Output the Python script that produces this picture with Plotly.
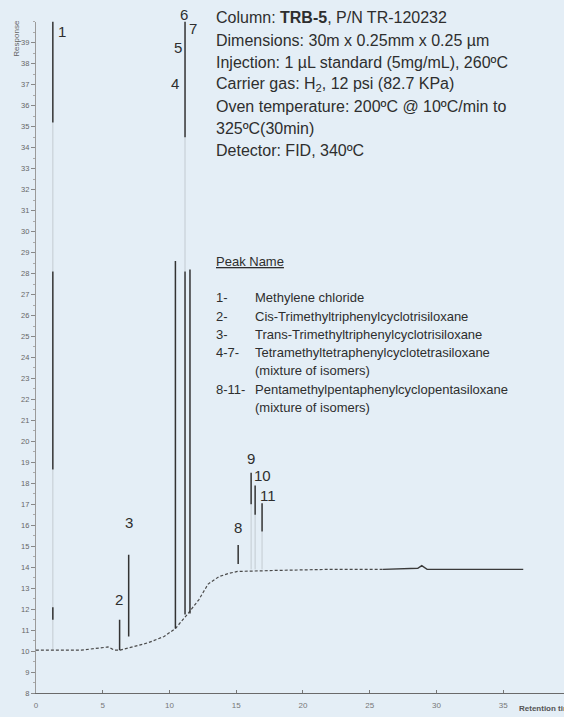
import plotly.graph_objects as go

W, H = 564, 717

# baseline drift (min, response)
base_time = [0.0, 1.0, 3.4, 5.4, 5.9, 6.3, 7.2, 8.4, 9.6, 10.45, 11.4, 12.2, 12.9, 13.7, 14.4, 15.1, 18.0, 22.0, 26.0]
base_resp = [10.05, 10.05, 10.05, 10.2, 10.05, 10.05, 10.2, 10.4, 10.7, 11.08, 11.8, 12.45, 13.2, 13.55, 13.7, 13.8, 13.85, 13.9, 13.9]
tail_time = [26.0, 28.6, 28.9, 29.3, 31.0, 34.0, 36.5]
tail_resp = [13.9, 13.95, 14.08, 13.9, 13.9, 13.9, 13.9]

# peak strokes: retention time, low and high end of the dark part
peak_time = [1.27, 1.27, 1.27, 6.27, 6.95, 10.45, 11.17, 11.54, 11.17, 15.15, 16.12, 16.42, 16.94]
peak_low = [35.2, 18.66, 11.5, 10.05, 10.7, 11.08, 11.75, 11.8, 34.5, 14.16, 17.0, 16.5, 15.7]
peak_high = [40.5, 28.1, 12.1, 11.5, 14.6, 28.6, 28.1, 28.2, 40.5, 15.06, 18.5, 17.9, 17.05]

# faded parts of the strokes in the scan
faint_time = [1.27, 1.27, 11.17, 16.12, 16.42, 16.94]
faint_low = [28.1, 10.05, 28.1, 13.9, 13.9, 13.9]
faint_high = [35.2, 18.66, 34.5, 17.0, 16.5, 15.7]

peak_numbers = ['1', '2', '3', '4', '5', '6', '7', '8', '9', '10', '11']

y_ticks = list(range(8, 40))
x_ticks = [0, 5, 10, 15, 20, 25, 30, 35]

info_lines = [
    'Column: <b>TRB-5</b>, P/N TR-120232',
    'Dimensions: 30m x 0.25mm x 0.25 µm',
    'Injection: 1 µL standard (5mg/mL), 260ºC',
    'Carrier gas: H<sub>2</sub>, 12 psi (82.7 KPa)',
    'Oven temperature: 200ºC @ 10ºC/min to',
    '325ºC(30min)',
    'Detector: FID, 340ºC',
]
peak_codes = ['1-', '2-', '3-', '4-7-', '', '8-11-', '']
peak_names = [
    'Methylene chloride',
    'Cis-Trimethyltriphenylcyclotrisiloxane',
    'Trans-Trimethyltriphenylcyclotrisiloxane',
    'Tetramethyltetraphenylcyclotetrasiloxane',
    '(mixture of isomers)',
    'Pentamethylpentaphenylcyclopentasiloxane',
    '(mixture of isomers)',
]


def segments(t, lo, hi):
    xs, ys = [], []
    for a, b, c in zip(t, lo, hi):
        xs += [a, a, None]
        ys += [b, c, None]
    return xs, ys


def px(x, y):
    return x / W, 1 - y / H


def note(x, y, text, size, color, xanchor='left', **kw):
    ax, ay = px(x, y)
    fig.add_annotation(x=ax, y=ay, xref='paper', yref='paper', text=text,
                       showarrow=False, xanchor=xanchor, yanchor='middle',
                       font=dict(size=size, color=color), **kw)


bg = '#e4eef6'
ink = '#2e2e2e'

fig = go.Figure()

fig.add_trace(go.Scatter(x=base_time, y=base_resp, mode='lines',
                         line=dict(color='#4a4a4a', width=1.2, dash='3px,2px')))
fig.add_trace(go.Scatter(x=tail_time, y=tail_resp, mode='lines',
                         line=dict(color='#3a3a3a', width=1.4)))

fx, fy = segments(faint_time, faint_low, faint_high)
fig.add_trace(go.Scatter(x=fx, y=fy, mode='lines',
                         line=dict(color='rgba(80,80,80,0.22)', width=1)))

sx, sy = segments(peak_time, peak_low, peak_high)
fig.add_trace(go.Scatter(x=sx, y=sy, mode='lines',
                         line=dict(color='#333333', width=1.5)))

# peak number labels (pixel positions)
label_pos = [(60, 32), (117, 604), (127, 526), (174, 84), (177, 48), (183, 15),
             (192, 29), (237, 531), (250, 462), (261, 479), (267, 499)]
for name, (lx, ly) in zip(peak_numbers, label_pos):
    note(lx, ly, name, 15, ink, xanchor='center')

# method text block
for i, line in enumerate(info_lines):
    note(213, 18 + i * 22.3, line, 16, ink)

note(213, 263, '<u>Peak Name</u>', 13, ink)
for i, (code, name) in enumerate(zip(peak_codes, peak_names)):
    yy = 300 + i * 18.4
    if code:
        note(213, yy, code, 13, ink)
    note(252, yy, name, 13, ink)

# axis captions of the scanned chart
note(15, 38, 'Response', 8, '#666', xanchor='center', textangle=-90)
note(517, 713, '<b>Retention time</b>', 8, '#555')

fig.update_layout(
    width=W, height=H,
    margin=dict(l=0, r=0, t=0, b=0),
    paper_bgcolor=bg, plot_bgcolor=bg,
    showlegend=False,
    font=dict(family='Liberation Sans, Arial, sans-serif'),
    xaxis=dict(domain=[34 / W, 1.0], range=[0, 530 / 13.4],
               tickvals=x_ticks, ticktext=[str(v) for v in x_ticks],
               showgrid=False, zeroline=False,
               showline=True, linecolor='#6a6a6a', linewidth=1,
               ticks='inside', ticklen=3, tickcolor='#777',
               ticklabelstandoff=4,
               tickfont=dict(size=8, color='#777')),
    yaxis=dict(domain=[1 - 698 / H, 1 - 22 / H], range=[8, 40],
               tickvals=y_ticks, ticktext=[str(v) for v in y_ticks],
               showgrid=False, zeroline=False,
               showline=True, linecolor='#9a9a9a', linewidth=1,
               ticks='outside', ticklen=4, tickcolor='#888',
               minor=dict(dtick=0.5, ticklen=2, tickcolor='#aaa', ticks='outside'),
               tickfont=dict(size=7.5, color='#666')),
)

# page body has a default 8px margin; drop it so the figure sits at 0,0
fig.write_html("out.html", config={'displayModeBar': False},
               post_script="document.body.style.margin='0';"
                           "document.body.style.background='%s';" % bg)
